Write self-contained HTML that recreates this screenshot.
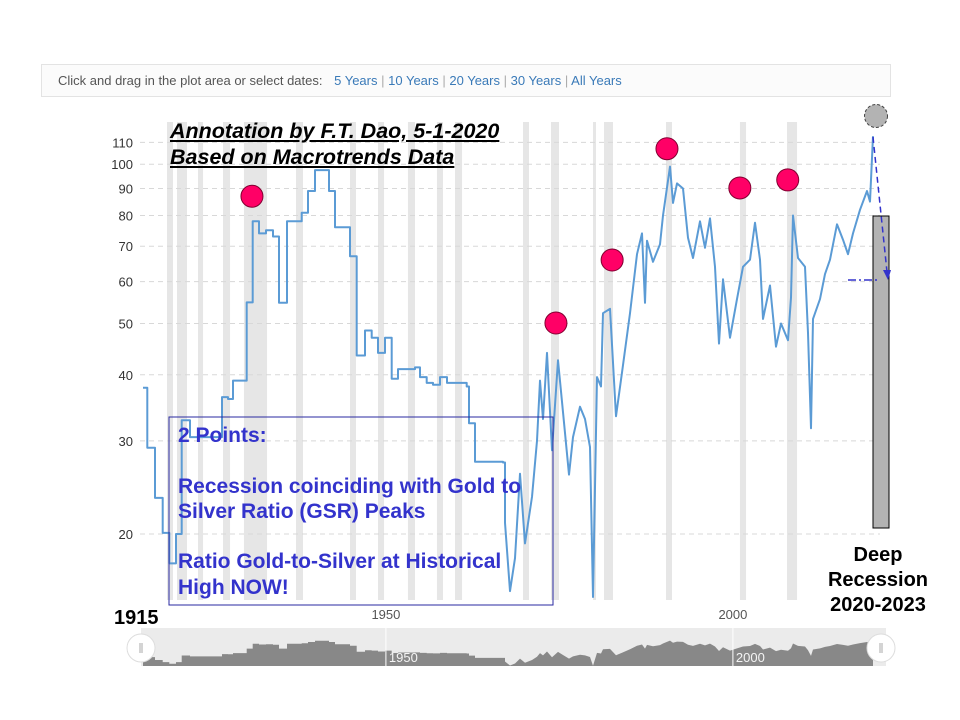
<!DOCTYPE html>
<html><head><meta charset="utf-8"><style>
body{margin:0;background:#fff;width:960px;height:720px;overflow:hidden;font-family:"Liberation Sans",sans-serif}
</style></head><body>
<div style="position:absolute;left:41px;top:64px;width:848px;height:31px;border:1px solid #e3e3e3;background:#fbfbfb;font-size:13px;color:#555;line-height:32px">
<span style="margin-left:16px">Click and drag in the plot area or select dates:</span>
<span style="color:#3a7ab8;margin-left:8px">5 Years</span> <span style="color:#aaa">|</span>
<span style="color:#3a7ab8">10 Years</span> <span style="color:#aaa">|</span>
<span style="color:#3a7ab8">20 Years</span> <span style="color:#aaa">|</span>
<span style="color:#3a7ab8">30 Years</span> <span style="color:#aaa">|</span>
<span style="color:#3a7ab8">All Years</span>
</div>
<svg id="c" width="960" height="720" style="position:absolute;left:0;top:0"></svg>
<script>
const years=[1915,1915.62,1916.73,1917.84,1918.79,1919.76,1920.58,1921.77,1926.38,1927.25,1927.97,1929.94,1930.81,1931.71,1932.72,1933.73,1934.6,1935.75,1937.87,1938.78,1939.78,1941.8,1942.67,1944.83,1945.79,1946.99,1947.95,1948.86,1949.87,1950.84,1951.74,1954.19,1954.91,1955.88,1956.79,1957.8,1958.8,1961.64,1961.97,1962.84,1966.87,1967.16,
1967.88,1968.6,1969.32,1970.04,1971.05,1971.77,1972.2,1972.64,1973.21,1973.93,1974.8,1975.52,1976.38,1976.96,1977.97,1978.69,1979.41,1979.84,1980.42,1980.99,1981.28,1982.29,1983.16,1984.02,1985.17,1986.18,1986.9,1987.33,1987.62,1988.49,1989.5,1989.93,1990.94,1991.37,1991.95,1992.81,1993.53,1994.25,1995.26,1995.98,1996.7,1997.42,1997.99,1998.57,1999.58,2000.59,2001.46,2002.46,2003.18,2003.9,2004.34,2005.35,2006.21,2006.93,2007.94,2008.37,2008.66,2009.38,2010.39,2010.82,2011.25,2011.54,2012.55,2013.27,2013.99,2015,2015.86,2016.59,2017.31,2018.32,2019.32,2019.76,2020.19];
const ratios=[37.8,29.1,23.4,20.1,17.6,20,32.8,30.5,36.3,36,39,54.8,78,74,75,73,54.7,78,81,89,97.5,89,76,67,43.5,48.5,47,44,47,39.3,41,41.3,39.6,38.6,38.3,39.6,38.6,38,32.4,27.4,27.3,21,
15.6,18,26,19.2,23.5,30,39,33,44,28.8,42.6,34,25.9,30.5,34.8,33,29.2,15.2,39.6,38,52.3,53.3,33.4,40.4,52.3,67.6,74,54.7,71.7,65.4,70.6,80,99,84.5,92,90,72.6,66.5,78,69.5,79,64,45.8,60.6,47,55.6,64,66,77.5,66,51,59,45.2,50,46.5,56,80,66.5,64,48,31.7,51,55.6,62,66,77,72,67.6,74,82,89,85,113];
const stepUntil=1967.2;
const recessions=[[1918.46,1919.32],[1919.9,1921.34],[1922.93,1923.65],[1926.53,1927.54],[1929.55,1932.87],[1937.05,1938.05],[1944.83,1945.69],[1948.86,1949.73],[1953.18,1954.19],[1957.36,1958.23],[1959.96,1960.97],[1969.76,1970.62],[1973.79,1974.94],[1979.84,1980.27],[1981.43,1982.72],[1990.36,1991.22],[2001.02,2001.89],[2007.8,2009.24]];
const yTicks=[20,30,40,50,60,70,80,90,100,110];
const peakYears=[1930.7,1974.5,1982.6,1990.5,2001,2007.9];
const peakValues=[87,50.1,65.9,107,90.2,93.4];
const xLabels=[1950,2000];
const NS='http://www.w3.org/2000/svg';
const svg=document.getElementById('c');
function X(yr){return 143+(yr-1915)*6.94;}
function Y(v){return 534-529*Math.log10(v/20);}
function NY(v){return 666-28*Math.log10(v/15)/Math.log10(8);}
function el(t,a,p){const e=document.createElementNS(NS,t);for(const k in a)e.setAttribute(k,a[k]);(p||svg).appendChild(e);return e;}
recessions.forEach(r=>{const e=el('rect',{x:X(r[0]),y:122,width:X(r[1])-X(r[0]),height:478,fill:'#e6e6e6'});

});
yTicks.forEach(t=>{const g=el('line',{x1:140,x2:880,y1:Y(t),y2:Y(t),stroke:'#d8d8d8','stroke-dasharray':'5,4'});


const l=el('text',{x:133,y:Y(t)+5,'text-anchor':'end','font-size':13,fill:'#333'});l.textContent=t;

});
function pathFor(fx,fy){let d='';years.forEach((y,i)=>{const px=fx(y).toFixed(1),py=fy(ratios[i]).toFixed(1);
if(i===0)d+='M'+px+','+py;else if(y<=stepUntil)d+='H'+px+'V'+py;else d+='L'+px+','+py;});return d;}
const ln=el('path',{d:pathFor(X,Y),fill:'none',stroke:'#5b9bd5','stroke-width':2,'stroke-linejoin':'round'});


peakYears.forEach((p,i)=>{const c=el('circle',{cx:X(p),cy:Y(peakValues[i]),r:11,fill:'#ff0066',stroke:'#800030','stroke-width':1});

});
xLabels.forEach(yr=>{const t=el('text',{x:X(yr),y:619,'text-anchor':'middle','font-size':13,fill:'#555'});t.textContent=yr;

});
const nb=el('rect',{x:141,y:628,width:745,height:38,fill:'#ebebeb'});


const nd=pathFor(X,NY)+'V666H'+X(years[0])+'Z';
const na=el('path',{d:nd,fill:'#888'});


xLabels.forEach(yr=>{el('line',{x1:X(yr),x2:X(yr),y1:628,y2:666,stroke:'#fff'});
const t=el('text',{x:X(yr)+3,y:662,'font-size':13,fill:'#f4f4f4'});t.textContent=yr;

});
[141,881].forEach(hx=>{const h=el('circle',{cx:hx,cy:648,r:14,fill:'#fff',stroke:'#ddd'});


el('line',{x1:hx-1,x2:hx-1,y1:643,y2:653,stroke:'#aaa'});el('line',{x1:hx+1,x2:hx+1,y1:643,y2:653,stroke:'#aaa'});});
</script>
<svg width="960" height="720" style="position:absolute;left:0;top:0">
<rect x="873" y="216" width="16" height="312" fill="#b3b3b3" stroke="#000" stroke-width="1"/>
<circle cx="876" cy="116" r="11.5" fill="#b3b3b3" stroke="#444" stroke-dasharray="3,2"/>
<line x1="873" y1="137" x2="887" y2="272" stroke="#3333cc" stroke-width="1.5" stroke-dasharray="6,4"/>
<polygon points="883,270 891,270 888,280" fill="#3333cc"/>
<line x1="848" y1="280" x2="878" y2="280" stroke="#3333cc" stroke-width="1.5" stroke-dasharray="8,3,2,3"/>
<rect x="169" y="417" width="384" height="188" fill="none" stroke="#2a2aa0" stroke-width="1"/>
</svg>
<div style="position:absolute;left:170px;top:118px;font-weight:bold;font-style:italic;font-size:21.5px;line-height:26px;color:#000;text-decoration:underline">Annotation by F.T. Dao, 5-1-2020<br>Based on Macrotrends Data</div>
<div style="position:absolute;left:178px;top:423px;font-weight:bold;font-size:21px;line-height:25.3px;color:#3333cc;white-space:nowrap">2 Points:<br><br>Recession coinciding with Gold to<br>Silver Ratio (GSR) Peaks<br><br>Ratio Gold-to-Silver at Historical<br>High NOW!</div>
<div style="position:absolute;left:114px;top:607px;font-weight:bold;font-size:20px;color:#000">1915</div>
<div style="position:absolute;left:818px;top:543px;width:120px;text-align:center;font-weight:bold;font-size:20px;line-height:25px;color:#000">Deep<br>Recession<br>2020-2023</div>
</body></html>
